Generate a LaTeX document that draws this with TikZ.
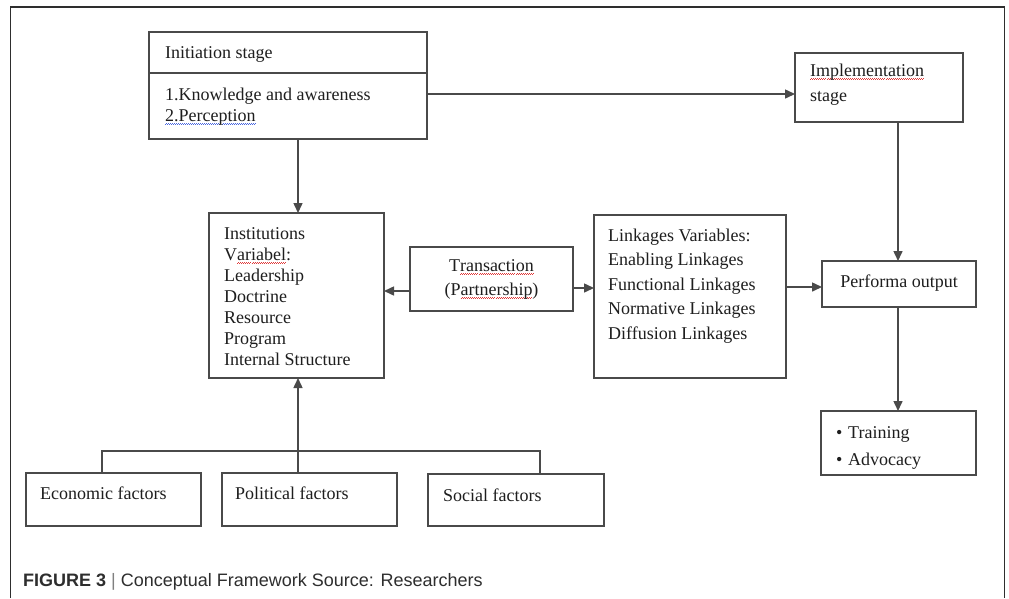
\documentclass[tikz,border=0pt]{standalone}
\usepackage{fontspec}
\setmainfont{Liberation Serif}
\newfontfamily\capfont{Liberation Sans}
\usetikzlibrary{arrows.meta}
\definecolor{ln}{HTML}{4A4A4A}
\definecolor{tx}{HTML}{1E1E1E}
\definecolor{frm}{HTML}{2E2E2E}
\definecolor{sqred}{HTML}{E03A3A}
\definecolor{sqblue}{HTML}{4A68E0}
\newsavebox\sqbox
\newcommand\squig[2]{\leavevmode\sbox\sqbox{#2}%
  \rlap{\textcolor{#1}{\raisebox{-3.6pt}{\hbox to \wd\sqbox{\xleaders\hbox{\rule{1pt}{0.8pt}\rule[0.6pt]{1pt}{0.8pt}}\hfill}}}}\usebox\sqbox}
\newcommand\redsq[1]{\squig{sqred}{#1}}
\newcommand\bluesq[1]{\squig{sqblue}{#1}}
\tikzset{
  boxnode/.style={draw=ln, line width=1.5pt, inner sep=0pt, outer sep=0pt, anchor=north west},
  arr/.style={draw=ln, line width=1.5pt, -{Triangle[length=10pt,width=9pt]}},
  conn/.style={draw=ln, line width=1.5pt},
  txt/.style={font=\fontsize{18}{21}\selectfont, text=tx, inner sep=0pt, anchor=base west},
  ctxt/.style={txt, anchor=base},
  frame/.style={draw=frm, line width=1.2pt}
}
\begin{document}
\begin{tikzpicture}[x=1pt, y=-1pt]
\useasboundingbox (0,0) rectangle (1009,598);
\fill[white] (0,0) rectangle (1009,598);
% outer frame
\draw[frame] (10.5,598) -- (10.5,7) -- (1004.5,7) -- (1004.5,598);

% boxes
\node[boxnode, minimum width=278pt, minimum height=107pt] (init) at (149,32) {};
\draw[conn] (init.west |- 0,73) -- (init.east |- 0,73);
\node[boxnode, minimum width=168pt, minimum height=69pt] (impl) at (795,53) {};
\node[boxnode, minimum width=175pt, minimum height=165pt] (inst) at (209,213) {};
\node[boxnode, minimum width=163pt, minimum height=64pt] (trans) at (410,247) {};
\node[boxnode, minimum width=192pt, minimum height=163pt] (link) at (594,215) {};
\node[boxnode, minimum width=154pt, minimum height=46pt] (perf) at (822,261) {};
\node[boxnode, minimum width=155pt, minimum height=64pt] (train) at (821,411) {};
\node[boxnode, minimum width=175pt, minimum height=53pt] (econ) at (26,473) {};
\node[boxnode, minimum width=175pt, minimum height=53pt] (pol) at (222,473) {};
\node[boxnode, minimum width=176pt, minimum height=52pt] (soc) at (428,474) {};

% texts
\node[txt] (t-init) at (165,58) {Initiation stage};
\node[txt] (t-know) at (165,100) {1.Knowledge and awareness};
\node[txt] (t-perc) at (165,121) {\bluesq{2.Perception}};
\node[txt] (t-impl1) at (810,76) {\redsq{Implementation}};
\node[txt] (t-impl2) at (810,101) {stage};

\node[txt] (t-inst1) at (224,239) {Institutions};
\node[txt] (t-inst2) at (224,260) {V\redsq{ariabel}:};
\node[txt] (t-inst3) at (224,281) {Leadership};
\node[txt] (t-inst4) at (224,302) {Doctrine};
\node[txt] (t-inst5) at (224,323) {Resource};
\node[txt] (t-inst6) at (224,344) {Program};
\node[txt] (t-inst7) at (224,365) {Internal Structure};

\node[ctxt] (t-trans1) at (491.5,271) {T\redsq{ransaction}};
\node[ctxt] (t-trans2) at (491.5,295) {(P\redsq{artnership})};

\node[txt] (t-link1) at (608,241) {Linkages Variables:};
\node[txt] (t-link2) at (608,265.5) {Enabling Linkages};
\node[txt] (t-link3) at (608,290) {Functional Linkages};
\node[txt] (t-link4) at (608,314.5) {Normative Linkages};
\node[txt] (t-link5) at (608,339) {Diffusion Linkages};

\node[ctxt] (t-perf) at (899,287) {Performa output};

\node[txt] (t-train1) at (836,438) {\makebox[12pt][l]{•}Training};
\node[txt] (t-train2) at (836,465) {\makebox[12pt][l]{•}Advocacy};

\node[txt] (t-econ) at (40,499) {Economic factors};
\node[txt] (t-pol) at (235,499) {Political factors};
\node[txt] (t-soc) at (443,501) {Social factors};

\node[anchor=base west, inner sep=0pt, text=frm, font=\capfont\fontsize{18}{21}\selectfont] (caption) at (23,586)
  {\textbf{FIGURE 3} {\color{gray}|} Conceptual Framework Source: Researchers};

% connector guide coordinates
\coordinate (r1) at (0,94);
\coordinate (c1) at (298,0);
\coordinate (c2) at (898,0);
\coordinate (r2) at (0,291);
\coordinate (r3) at (0,288);
\coordinate (r4) at (0,287);
\coordinate (bl) at (102,451);
\coordinate (br) at (540,451);

% connectors
\draw[arr] (init.east |- r1) -- (impl.west |- r1);
\draw[arr] (init.south -| c1) -- (inst.north -| c1);
\draw[arr] (impl.south -| c2) -- (perf.north -| c2);
\draw[arr] (trans.west |- r2) -- (inst.east |- r2);
\draw[arr] (trans.east |- r3) -- (link.west |- r3);
\draw[arr] (link.east |- r4) -- (perf.west |- r4);
\draw[arr] (perf.south -| c2) -- (train.north -| c2);
\draw[arr] (pol.north -| c1) -- (inst.south -| c1);
\draw[conn] (econ.north -| bl) -- (bl) -- (br) -- (soc.north -| br);
\end{tikzpicture}
\end{document}
